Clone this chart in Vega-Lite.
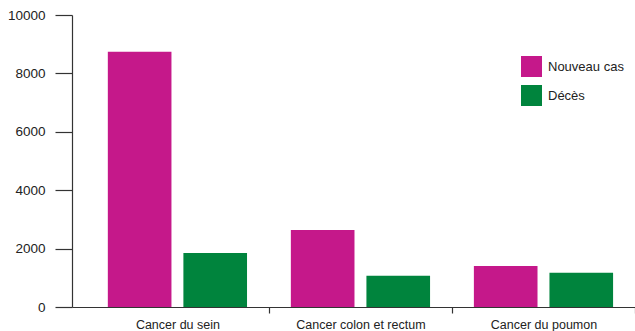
{
  "$schema": "https://vega.github.io/schema/vega-lite/v6.json",
  "width": 563,
  "height": 292,
  "autosize": {"type": "none"},
  "padding": {"left": 72, "top": 15, "right": 0, "bottom": 24},
  "background": "white",
  "config": {
    "view": {"stroke": null},
    "font": "Liberation Sans",
    "axis": {"domainColor": "#333333", "tickColor": "#333333", "labelColor": "#222222", "grid": false, "domainWidth": 1.2, "tickWidth": 1.2, "labelFont": "Liberation Sans"},
    "legend": {"labelFont": "Liberation Sans"}
  },
  "data": {
    "values": [
      {"cancer": "Cancer du sein", "type": "Nouveau cas", "value": 8740},
      {"cancer": "Cancer du sein", "type": "Décès", "value": 1850},
      {"cancer": "Cancer colon et rectum", "type": "Nouveau cas", "value": 2640},
      {"cancer": "Cancer colon et rectum", "type": "Décès", "value": 1070},
      {"cancer": "Cancer du poumon", "type": "Nouveau cas", "value": 1400},
      {"cancer": "Cancer du poumon", "type": "Décès", "value": 1170}
    ]
  },
  "mark": {"type": "bar"},
  "encoding": {
    "x": {
      "field": "cancer",
      "type": "nominal",
      "sort": ["Cancer du sein", "Cancer colon et rectum", "Cancer du poumon"],
      "scale": {"paddingInner": 0, "paddingOuter": 0.038, "align": 1},
      "axis": {"title": null, "labelAngle": 0, "labelFontSize": 12.5, "tickSize": 6, "labelPadding": 5, "tickOffset": 91.5, "labelOffset": -91.5}
    },
    "xOffset": {
      "field": "type",
      "type": "nominal",
      "sort": ["Nouveau cas", "Décès"],
      "scale": {"paddingInner": 0.158, "paddingOuter": 0.29}
    },
    "y": {
      "field": "value",
      "type": "quantitative",
      "scale": {"domain": [0, 10000], "nice": false},
      "axis": {"title": null, "values": [0, 2000, 4000, 6000, 8000, 10000], "format": "d", "tickSize": 17, "labelPadding": 10, "labelFontSize": 13.5}
    },
    "color": {
      "field": "type",
      "type": "nominal",
      "sort": ["Nouveau cas", "Décès"],
      "scale": {"domain": ["Nouveau cas", "Décès"], "range": ["#C5188A", "#00843D"]},
      "legend": {
        "title": null,
        "orient": "none",
        "legendX": 449,
        "legendY": 41,
        "symbolType": "square",
        "symbolSize": 441,
        "symbolStrokeWidth": 0,
        "symbolOpacity": 1,
        "labelFontSize": 13,
        "labelColor": "#222222",
        "labelOffset": 6,
        "rowPadding": 8
      }
    }
  }
}
